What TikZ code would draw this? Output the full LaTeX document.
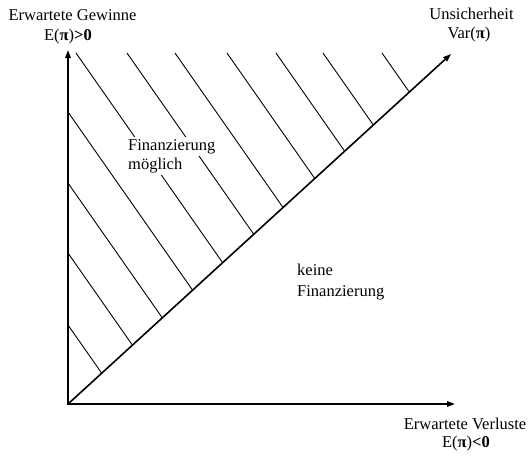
\documentclass[tikz,border=0pt]{standalone}
\usepackage{fontspec}
\setmainfont{Liberation Serif}
\usetikzlibrary{arrows.meta}
\begin{document}
\begin{tikzpicture}[x=1pt,y=-1pt,
  >={Triangle[length=8pt,width=5.5pt]},
  axis/.style={line width=1.6pt},
  hatch/.style={line width=0.9pt},
  lbl/.style={font=\fontsize{16.5}{19.5}\selectfont,inner sep=0pt,anchor=base},
  lbll/.style={lbl,anchor=base west},
  boxed/.style={fill=white,inner xsep=1pt,inner ysep=2.5pt}]
\useasboundingbox (0,0) rectangle (530,459);
\coordinate (O) at (68,404);
\coordinate (Ytip) at (68,50);
\coordinate (Xtip) at (455,404);
\coordinate (Dtip) at (451,54);
\foreach \i/\sx/\sy/\ex/\ey in {
  1/68/325/101.71/373.19,
  2/68/253/132.42/345.13,
  3/68/183/162.29/317.84,
  4/68/112/192.58/290.16,
  5/76/53/222.64/262.69,
  6/127/53/253.75/234.25,
  7/175/53/283.04/207.49,
  8/227/53/314.76/178.50,
  9/276/53/344.66/151.18,
  10/323/53/373.33/124.97,
  11/382/53/409.33/92.08} {
  \coordinate (s\i) at (\sx,\sy);
  \coordinate (e\i) at (\ex,\ey);
  \draw[hatch] (s\i) -- (e\i);
}
\draw[axis,<->] (Ytip) -- (O) -- (Xtip);
\draw[axis,->] (O) -- (Dtip);
\node[lbl] (gew1) at (72.5,20) {Erwartete Gewinne};
\node[lbl] (gew2) at (68,40) {E(\textbf{π})\textbf{>0}};
\node[lbl] (uns1) at (471.5,19) {Unsicherheit};
\node[lbl] (uns2) at (469,38) {Var(\textbf{π})};
\node[lbll,boxed] (fm1) at (127,150) {Finanzierung};
\node[lbll,boxed] (fm2) at (127,169) {möglich};
\node[lbll] (kf1) at (297,275) {keine};
\node[lbll] (kf2) at (297,296) {Finanzierung};
\node[lbl] (ver1) at (465,429) {Erwartete Verluste};
\node[lbl] (ver2) at (466,447) {E(\textbf{π})\textbf{<0}};
\end{tikzpicture}
\end{document}
